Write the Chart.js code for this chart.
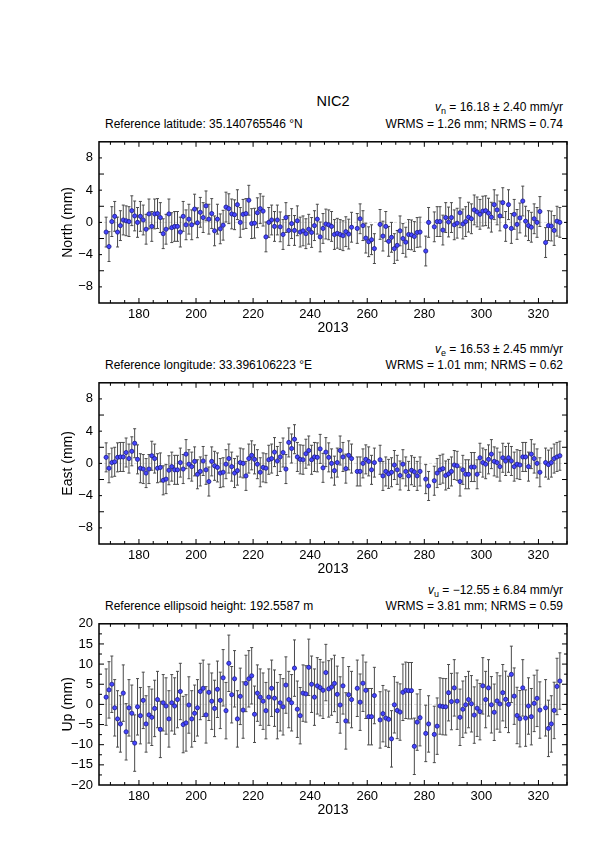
<!DOCTYPE html>
<html lang="en">
<head>
<meta charset="UTF-8">
<title>NIC2 time series</title>
<script src="https://cdn.jsdelivr.net/npm/chart.js"></script>
<style>
  body { margin: 0; background: #fff; font-family: "Liberation Sans", Arial, Helvetica, sans-serif; }
  #page { position: relative; width: 595px; height: 842px; overflow: hidden; }
  canvas { position: absolute; left: 0; }
  .txt { position: absolute; font-size: 12px; line-height: 14px; white-space: nowrap; color: #000; }
  .l { left: 105px; }
  .r { right: 32px; text-align: right; }
  .ttl { position: absolute; left: 0; width: 666px; text-align: center; font-size: 14.5px; line-height: 17px; top: 93px; }
  sub { font-size: 9px; vertical-align: -3px; line-height: 0; }
</style>
</head>
<body>
<div id="page">
  <div class="ttl">NIC2</div>
  <div class="txt r" style="top:100px"><i>v</i><sub>n</sub> = 16.18 ± 2.40 mm/yr</div>
  <div class="txt l" style="top:117px">Reference latitude: 35.140765546 °N</div>
  <div class="txt r" style="top:117px">WRMS = 1.26 mm; NRMS = 0.74</div>

  <div class="txt r" style="top:342px"><i>v</i><sub>e</sub> = 16.53 ± 2.45 mm/yr</div>
  <div class="txt l" style="top:358px">Reference longitude: 33.396106223 °E</div>
  <div class="txt r" style="top:358px">WRMS = 1.01 mm; NRMS = 0.62</div>

  <div class="txt r" style="top:583px"><i>v</i><sub>u</sub> = −12.55 ± 6.84 mm/yr</div>
  <div class="txt l" style="top:599px">Reference ellipsoid height: 192.5587 m</div>
  <div class="txt r" style="top:599px">WRMS = 3.81 mm; NRMS = 0.59</div>

  <canvas id="north" width="595" height="210" style="top:128px"></canvas>
  <canvas id="east" width="595" height="210" style="top:369.3px"></canvas>
  <canvas id="up" width="595" height="210" style="top:610px"></canvas>
</div>

<script>
// day of year 2013 (gaps: 255, 263, 279, 282, 321)
const days = [
  168,169,170,171,172,173,174,175,176,177,178,179,180,181,182,183,184,185,186,187,
  188,189,190,191,192,193,194,195,196,197,198,199,200,201,202,203,204,205,206,207,
  208,209,210,211,212,213,214,215,216,217,218,219,220,221,222,223,224,225,226,227,
  228,229,230,231,232,233,234,235,236,237,238,239,240,241,242,243,244,245,246,247,
  248,249,250,251,252,253,254,256,257,258,259,260,261,262,264,265,266,267,268,269,
  270,271,272,273,274,275,276,277,278,280,281,283,284,285,286,287,288,289,290,291,
  292,293,294,295,296,297,298,299,300,301,302,303,304,305,306,307,308,309,310,311,
  312,313,314,315,316,317,318,319,320,322,323,324,325,326,327
];

// north residuals (mm)
const north = [
  -1.2,-3.0,0.1,0.75,-1.2,-0.4,0.3,0.2,0.1,1.45,0.8,0,0.75,0.3,-0.85,1.05,-0.5,1.05,1.1,0.6,
  -1.4,-0.85,1.05,-0.65,-0.5,-0.5,-1.2,0.75,-0.3,0.4,-0.3,1.65,-0.05,1.25,0.6,2.05,0.4,1.1,-1.05,0.4,
  -0.8,-0.35,1.9,1.7,1.05,0.95,2.2,0,1.0,1.1,2.75,-0.15,-0.1,1.2,1.7,1.4,-1.8,0,0.3,-0.5,
  0.3,-0.55,-1.5,0.6,-1.0,-0.15,-1.0,0.2,-1.2,-1.05,-1.4,-0.85,-1.25,-0.4,0.4,-1.8,-0.75,-0.2,-0.3,-0.5,
  -1.5,-1.35,-1.5,-1.65,-1.15,-1.45,-0.6,-0.75,0.45,-0.4,-1.95,-2.4,-2.15,-3.25,-0.25,-1.7,-0.5,-2.35,-1.85,-3.25,
  -2.85,-1.05,-2.0,-2.45,-1.5,-1.55,-1.75,-1.25,-1.2,-3.55,0,-0.55,0.1,0.1,-0.95,0.6,0.05,0.6,-0.3,-0.1,
  1.2,-0.2,0.1,0.65,0.45,1.55,1.3,1.0,1.4,1.45,1.15,0.65,2.2,1.55,0.8,2.45,-0.5,2.2,-0.75,1.0,
  -0.25,0.55,2.65,0.15,-0.4,-0.6,0.45,0,1.35,-2.5,-0.4,-0.45,-1.0,0.15,0
];

// east residuals (mm)
const east = [
  0.75,-0.6,0.1,0.2,0.75,0.8,0.8,1.35,0.6,1.5,2.5,0.5,-0.6,-0.7,-1.2,-0.7,0.95,0.6,-0.6,-0.5,
  -2.1,-1.95,-0.85,-0.4,-0.8,-0.8,0.1,-0.7,1.15,-0.1,-0.4,0.25,-1.35,-1.0,0.3,-0.8,-2.25,0.25,-0.3,-0.5,
  -1.2,-1.1,-0.1,0.6,-0.4,-1.2,-0.9,0.1,0,-1.55,0.6,1.0,0.5,-0.1,-1.1,-0.5,-0.6,0.45,0.6,1.4,
  0.3,0.8,1.35,-0.7,2.6,1.85,3.0,0.8,0.5,0.45,1.2,1.6,0.45,0.8,0.75,1.8,-0.55,1.4,0.75,0,
  -0.9,0.1,1.6,0.8,-0.65,1.0,0.6,-1.0,-1.0,0,0.5,0.25,-0.8,0.1,0.45,-1.55,-1.0,-1.3,-1.1,-0.2,
  -0.8,-1.5,-0.1,-1.0,-1.55,-0.85,-1.05,-1.55,-1.0,-1.95,-2.8,-2.15,-1.2,-0.8,-0.65,-1.5,-1.3,-1.0,-0.2,-0.3,
  -2.25,-0.8,-1.35,-1.35,-0.45,-0.45,-1.35,0.7,0.1,-0.1,0.5,1.15,0.25,0.1,-0.4,0.7,0.3,0.7,0.3,-0.4,
  -0.1,-0.2,0.8,0.8,-0.4,1.15,0.6,0,-1.1,0.1,-0.15,0.1,0.6,0.8,0.95
];

// up residuals (mm)
const up = [
  1.8,3.6,5.0,-0.85,-3.6,-4.85,2.8,-6.8,-0.85,-2.2,-9.6,-0.6,-2.8,1.0,-4.85,-2.6,-3.2,-1.0,1.2,-6.2,
  0.4,-0.4,-3.6,0.4,-0.4,1.2,3.2,-5.0,-4.6,-0.15,-3.6,-2.2,-0.85,3.2,4.0,-2.6,3.0,0.8,-1.0,3.75,
  1.0,6.6,-1.55,10.2,2.4,6.35,-3.6,2.0,-1.4,5.2,6.35,7.1,-2.45,2.8,1.8,0.8,-1.55,1.8,4.0,1.55,
  -1.55,0.4,-0.6,4.8,1.2,0.4,9.0,-1.2,-2.8,2.8,2.6,9.2,5.0,1.8,4.6,4.15,3.5,7.9,3.85,4.3,
  5.2,2.5,-0.15,4.6,-4.1,2.4,1.2,4.0,0.55,5.25,3.5,-3.05,-3.05,2.2,-3.85,-2.3,-3.4,-3.7,-8.55,-0.1,
  -1.5,-1.9,3.0,3.5,3.4,3.4,-10.4,-4.4,-3.3,-7.2,-4.85,-7.45,-5.4,-0.4,-0.55,-0.6,2.9,0.7,4.1,0.8,
  -3.2,-1.2,-0.1,1.2,0.15,-2.65,-0.95,-1.8,4.6,1.2,4.1,-0.1,-1.95,0.85,0.1,2.9,1.25,0,7.45,2.05,
  -2.75,-3.55,4.1,-3.4,-0.4,-3.05,0.25,1.5,-1.4,-0.85,-5.95,-4.85,-1.5,4.45,5.8
];

// one-sigma error bar half lengths (mm)
const sigmaNorth = 1.85;
const sigmaEast = 1.8;
const sigmaUp = 7.0;

// labelled ticks
const xTicks = [180, 200, 220, 240, 260, 280, 300, 320];
const neTicks = [-8, -4, 0, 4, 8];
const upTicks = [-20, -15, -10, -5, 0, 5, 10, 15, 20];

const FONT = '"Liberation Sans", Arial, Helvetica, sans-serif';

function makeDeco(vals, sig, yMinor, yMajorEvery) {
  return {
    id: 'deco',
    beforeDatasetsDraw(chart) {
      const {ctx, chartArea: a, scales: {x, y}} = chart;
      ctx.save();
      ctx.beginPath();
      ctx.rect(a.left, a.top, a.right - a.left, a.bottom - a.top);
      ctx.clip();
      const y0 = y.getPixelForValue(0);
      ctx.strokeStyle = '#dddddd';
      ctx.lineWidth = 1;
      ctx.setLineDash([3, 2]);
      ctx.beginPath();
      ctx.moveTo(a.left, y0); ctx.lineTo(a.right, y0);
      ctx.stroke();
      ctx.setLineDash([]);
      ctx.strokeStyle = '#4a4a4a';
      vals.forEach((v, i) => {
        const px = x.getPixelForValue(days[i] + 0.5);
        const lo = y.getPixelForValue(v - sig);
        const hi = y.getPixelForValue(v + sig);
        ctx.beginPath();
        ctx.moveTo(px, lo); ctx.lineTo(px, hi);
        ctx.moveTo(px - 1.5, lo); ctx.lineTo(px + 1.5, lo);
        ctx.moveTo(px - 1.5, hi); ctx.lineTo(px + 1.5, hi);
        ctx.stroke();
      });
      ctx.restore();
    },
    afterDraw(chart) {
      const {ctx, chartArea: a, scales: {x, y}} = chart;
      ctx.save();
      ctx.strokeStyle = '#000';
      ctx.lineWidth = 1;
      ctx.beginPath();
      for (let d = 170; d <= 330; d += 5) {
        const px = x.getPixelForValue(d);
        const len = d % 20 === 0 ? 5 : 3;
        ctx.moveTo(px, a.bottom); ctx.lineTo(px, a.bottom - len);
        ctx.moveTo(px, a.top); ctx.lineTo(px, a.top + len);
      }
      const n = Math.round((y.max - y.min) / yMinor);
      for (let k = 1; k < n; k++) {
        const py = y.getPixelForValue(y.min + k * yMinor);
        const len = k % yMajorEvery === 0 ? 5 : 3;
        ctx.moveTo(a.left, py); ctx.lineTo(a.left + len, py);
        ctx.moveTo(a.right, py); ctx.lineTo(a.right - len, py);
      }
      ctx.stroke();
      ctx.lineWidth = 1.5;
      ctx.strokeRect(a.left, a.top, a.right - a.left, a.bottom - a.top);
      ctx.restore();
    }
  };
}

function makePanel(id, vals, sig, title, yMin, yMax, yTicks, yMinor, yMajorEvery) {
  new Chart(document.getElementById(id), {
    type: 'scatter',
    data: {
      datasets: [{
        data: days.map((d, i) => ({x: d + 0.5, y: vals[i]})),
        backgroundColor: '#4545ff',
        borderColor: '#1a1a8c',
        borderWidth: 0.8,
        pointRadius: 2.1
      }]
    },
    options: {
      responsive: false,
      animation: false,
      devicePixelRatio: 1,
      layout: { padding: { left: 60, right: 28, top: 5, bottom: 1.6 } },
      plugins: { legend: { display: false }, tooltip: { enabled: false } },
      scales: {
        x: {
          type: 'linear', min: 166, max: 330,
          grid: { display: false, drawTicks: false },
          border: { display: false },
          afterBuildTicks(s) { s.ticks = xTicks.map(v => ({value: v})); },
          ticks: { padding: 4, color: '#000', maxRotation: 0, autoSkip: false,
                   font: { family: FONT, size: 13 } },
          title: { display: true, text: '2013', color: '#000', padding: 0, font: { family: FONT, size: 14 } },
          afterFit(s) { s.height = 33.4; }
        },
        y: {
          min: yMin, max: yMax,
          grid: { display: false, drawTicks: false },
          border: { display: false },
          afterBuildTicks(s) { s.ticks = yTicks.map(v => ({value: v})); },
          ticks: { padding: 6, color: '#000', autoSkip: false,
                   font: { family: FONT, size: 13 },
                   callback: v => String(v).replace('-', '\u2212') },
          title: { display: true, text: title, color: '#000', padding: 0, font: { family: FONT, size: 14 } },
          afterFit(s) { s.width = 39; }
        }
      }
    },
    plugins: [makeDeco(vals, sig, yMinor, yMajorEvery)]
  });
}

makePanel('north', north, sigmaNorth, 'North (mm)', -10, 10, neTicks, 2, 2);
makePanel('east', east, sigmaEast, 'East (mm)', -10, 10, neTicks, 2, 2);
makePanel('up', up, sigmaUp, 'Up (mm)', -20, 20, upTicks, 2.5, 2);
</script>
</body>
</html>
